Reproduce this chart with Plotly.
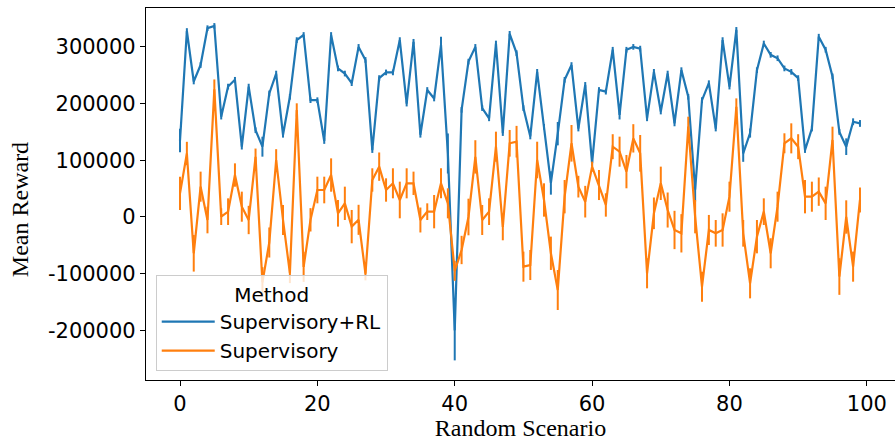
import plotly.graph_objects as go

# scenario index 0..99
scenarios = list(range(100))

# mean reward per scenario
sup_rl = [135000, 328000, 239000, 268000, 333000, 337000, 177000, 230000, 242000, 124000,
          230000, 153000, 124000, 218000, 253000, 145000, 212000, 312000, 321000, 206000,
          206000, 134000, 321000, 262000, 253000, 236000, 300000, 277000, 118000, 245000,
          255000, 255000, 312000, 200000, 309000, 145000, 224000, 209000, 303000, 112000,
          -200000, 189000, 274000, 300000, 192000, 174000, 306000, 148000, 323000, 289000,
          192000, 142000, 256000, 159000, 60000, 147000, 242000, 268000, 156000, 233000,
          95000, 224000, 221000, 295000, 180000, 295000, 300000, 297000, 174000, 256000,
          186000, 253000, 165000, 259000, 212000, 48000, 206000, 236000, 156000, 312000,
          230000, 330000, 112000, 148000, 259000, 306000, 286000, 280000, 262000, 256000,
          245000, 118000, 156000, 318000, 295000, 248000, 150000, 124000, 168000, 165000]

sup = [41700, 112000, -64000, 53500, -5300, 225000, 600, 9400, 74000, 18200,
       -5300, 106000, -115000, -45000, 100500, -5300, -99000, 188700, -88000, -5000,
       47600, 47600, 74000, 6500, 24100, -17000, -5000, -100000, 65300, 88800,
       47600, 59400, 30000, 59400, 59400, -5300, 9400, 9400, 59400, 24100,
       -95000, -58200, 0, 106000, -5300, 9400, 124000, -17600, 130000, 132800,
       -87600, -84700, 100500, 30000, -64000, -128800, 35800, 130000, 53500, 27000,
       88800, 56400, 21200, 124000, 115200, 80000, 138700, 112300, -99300, 6500,
       59400, 12300, -22900, -28800, 159300, 600, -122900, -22900, -28800, -22900,
       35800, 194500, -28800, -117000, -34700, 9400, -64000, 18200, 130000, 138700,
       124000, 35800, 35800, 44700, 24100, 135800, -105000, 0, -87600, 30000]

# half-width of the error bars
sup_rl_err = [20600, 5000, 5000, 5000, 5000, 5000, 5000, 5000, 5000, 5000,
              5000, 5000, 17600, 5000, 5000, 5000, 5000, 5000, 5000, 5000,
              5000, 5000, 5000, 5000, 5000, 5000, 5000, 5000, 5000, 5000,
              5000, 5000, 5000, 5000, 5000, 5000, 5000, 5000, 14700, 35300,
              52900, 5000, 5000, 5000, 5000, 5000, 5000, 5000, 5000, 5000,
              5000, 5000, 5000, 5000, 20600, 20600, 5000, 5000, 5000, 5000,
              5000, 5000, 5000, 5000, 8000, 5000, 5000, 5000, 5000, 5000,
              5000, 5000, 5000, 5000, 5000, 20600, 5000, 5000, 5000, 5000,
              5000, 5000, 14700, 8000, 5000, 5000, 5000, 5000, 5000, 5000,
              5000, 5000, 5000, 5000, 5000, 5000, 5000, 14700, 6000, 6000]

sup_err = [29400, 20600, 32300, 26500, 23500, 17600, 14700, 23500, 20600, 26500,
           25000, 14700, 26500, 26500, 19100, 26500, 17600, 11800, 26500, 20600,
           23500, 23500, 29400, 23500, 29400, 29400, 26500, 11800, 20600, 25000,
           20600, 26500, 32300, 26500, 20600, 22000, 14700, 29400, 26500, 26500,
           17600, 25000, 32300, 29400, 26500, 23500, 26500, 23500, 23500, 27900,
           26500, 26500, 32300, 29400, 29400, 35300, 29400, 32300, 19100, 27900,
           8800, 26500, 20600, 22000, 26500, 29400, 25000, 32300, 26500, 27900,
           29400, 30900, 33800, 33800, 17600, 29400, 26500, 26500, 23500, 29400,
           26500, 14700, 23500, 26500, 29400, 23500, 26500, 26500, 17600, 26500,
           22000, 29400, 26500, 25000, 29400, 23500, 32300, 29400, 26500, 22000]

y_ticks = [-200000, -100000, 0, 100000, 200000, 300000]
x_ticks = [0, 20, 40, 60, 80, 100]

blue = '#1f77b4'
orange = '#ff7f0e'

fig = go.Figure()
fig.add_trace(go.Scatter(x=scenarios, y=sup_rl, mode='lines', name='Supervisory+RL',
                         line=dict(color=blue, width=2.2),
                         error_y=dict(type='data', array=sup_rl_err, width=0, thickness=2, color=blue)))
fig.add_trace(go.Scatter(x=scenarios, y=sup, mode='lines', name='Supervisory',
                         line=dict(color=orange, width=2.2),
                         error_y=dict(type='data', array=sup_err, width=0, thickness=2, color=orange)))

tick_font = dict(family='DejaVu Sans', size=21, color='black')
label_font = dict(family='Liberation Serif', size=24, color='black')

fig.update_xaxes(range=[-4.95, 104.1], tickvals=x_ticks, ticks='outside', ticklen=5,
                 tickcolor='black', showline=True, linecolor='black', linewidth=1.2,
                 mirror=True, showgrid=False, zeroline=False, tickfont=tick_font,
                 title=dict(text='Random Scenario', font=label_font, standoff=4))
fig.update_yaxes(range=[-287500, 368600], tickvals=y_ticks,
                 ticktext=[str(v) if v >= 0 else '-' + str(-v) for v in y_ticks],
                 ticks='outside', ticklen=5, tickcolor='black', showline=True,
                 linecolor='black', linewidth=1.2, mirror=True, showgrid=False,
                 zeroline=False, tickfont=tick_font)

# y label as an annotation so it sits where the reference has it
fig.add_annotation(text='Mean Reward', textangle=-90, font=label_font, showarrow=False,
                   xref='paper', yref='paper', x=-0.168, y=0.457,
                   xanchor='center', yanchor='middle')

fig.update_layout(width=895, height=441, plot_bgcolor='white', paper_bgcolor='white',
                  margin=dict(l=146, r=0, t=8, b=61),
                  legend=dict(title=dict(text='Method', side='top center',
                                         font=dict(family='DejaVu Sans', size=20, color='black')),
                              font=dict(family='DejaVu Sans', size=20, color='black'),
                              x=0.013, y=0.282, xanchor='left', yanchor='top',
                              itemwidth=53,
                              bgcolor='rgba(255,255,255,0.8)', bordercolor='#cccccc',
                              borderwidth=1))

# the page body has a default 8px margin; drop it so the figure fills the window
fig.write_html("out.html", config={'displayModeBar': False},
               post_script="document.body.style.margin='0';")
